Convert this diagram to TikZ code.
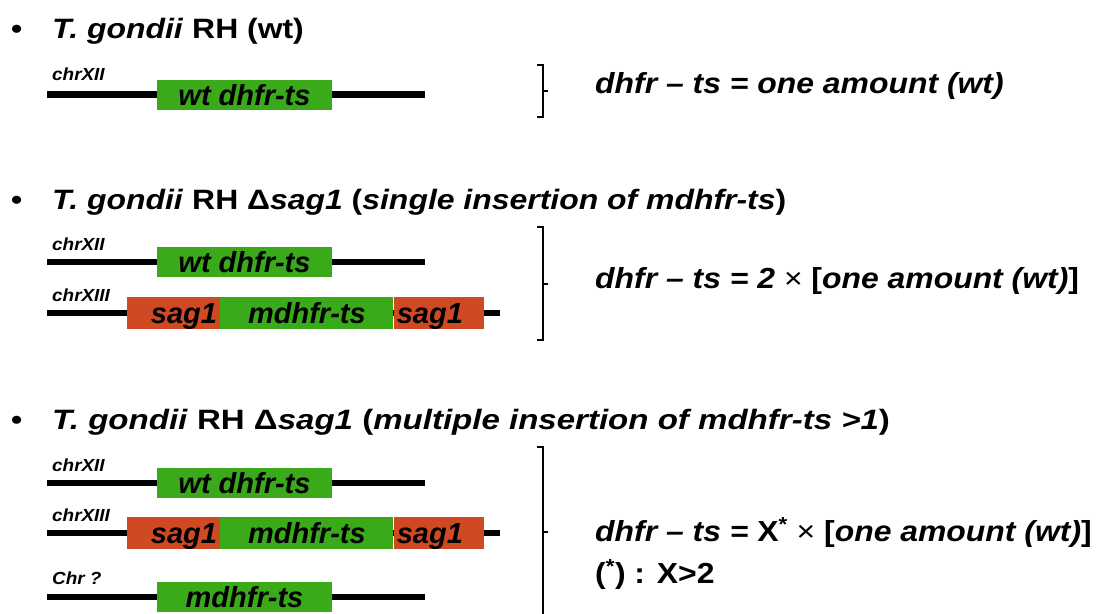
\documentclass[tikz,border=0pt]{standalone}
\usepackage{fontspec}
\setmainfont{Liberation Sans}
\newfontfamily\headfont{Liberation Sans}[FakeStretch=1.14]
\newfontfamily\longheadfont{Liberation Sans}[FakeStretch=1.18]
\newfontfamily\resfont{Liberation Sans}[FakeStretch=1.10]
\newfontfamily\labfont{Liberation Sans}[FakeStretch=1.08]
\usepackage{tikz}
\usetikzlibrary{positioning}

\definecolor{genegreen}{RGB}{58,170,26}
\definecolor{sagred}{RGB}{207,74,34}

\tikzset{
  chrom/.style={line width=6.5pt, black},
  genebox/.style={fill=genegreen, inner xsep=0pt, inner ysep=0pt,
    minimum height=30pt, text height=21pt, text depth=0pt,
    font=\fontsize{29}{29}\selectfont\bfseries\itshape},
  sagbox/.style={genebox, fill=sagred, minimum height=32pt},
  chrlabel/.style={anchor=base west, inner sep=0pt,
    font=\labfont\fontsize{17.5}{17.5}\selectfont\bfseries\itshape},
  heading/.style={anchor=base west, inner sep=0pt,
    font=\headfont\fontsize{28}{28}\selectfont\bfseries},
  result/.style={anchor=base west, inner sep=0pt,
    font=\resfont\fontsize{29}{29}\selectfont\bfseries\itshape},
  sidebrace/.style={line width=2.5pt}
}

\begin{document}
\begin{tikzpicture}[x=1pt, y=-1pt]
    \useasboundingbox (0,0) rectangle (1116,613);
    % strain wt
    \node[heading] (b1) at (11,38) {\textbullet};
    \node[heading] (t1) at (52,38) {\textit{T. gondii} RH (wt)};
    \node[chrlabel] (c1) at (52,80) {chrXII};
    \coordinate (c1w) at (47,94.5);
    \coordinate (c1e) at (425,94.5);
    \draw[chrom] (c1w) -- (c1e);
    \node[genebox, minimum width=175pt] (g1) at (244.5,94.5) {wt dhfr-ts};
    \draw[sidebrace] (537,65) -- (543,65) -- (543,117) -- (537,117);
    \draw[sidebrace] (543,91) -- (548,91);
    \node[result] (r1) at (595,93) {dhfr – ts = one amount (wt)};

    % single insertion
    \node[heading] (b2) at (11,209) {\textbullet};
    \node[heading] (t2) at (52,209) {\textit{T. gondii} RH Δ\textit{sag1} (\textit{single insertion of mdhfr-ts})};
    \node[chrlabel] (c2) at (52,250) {chrXII};
    \coordinate (c2w) at (47,262);
    \coordinate (c2e) at (425,262);
    \draw[chrom] (c2w) -- (c2e);
    \node[genebox, minimum width=175pt] (g2) at (244.5,262) {wt dhfr-ts};
    \node[chrlabel] (c3) at (52,301) {chrXIII};
    \coordinate (c3w) at (47,313);
    \coordinate (c3e) at (500,313);
    \draw[chrom] (c3w) -- (c3e);
    \node[sagbox, inner xsep=3pt, text width=87pt, align=right] (s2a) at (173.5,313) {sag1};
    \node[genebox, minimum height=32pt, minimum width=173pt, right=0pt of s2a] (m2) {mdhfr-ts};
    \node[sagbox, inner xsep=3pt, text width=84pt, align=left, right=0pt of m2] (s2b) {sag1};
    \draw[sidebrace] (537,227) -- (543,227) -- (543,340) -- (537,340);
    \draw[sidebrace] (543,284) -- (548,284);
    \node[result] (r2) at (595,288) {dhfr – ts = 2 {\upshape\mdseries ×} {\upshape [}one amount (wt){\upshape ]}};

    % multiple insertion
    \node[heading] (b3) at (11,429) {\textbullet};
    \node[heading, font=\longheadfont\fontsize{28}{28}\selectfont\bfseries] (t3) at (52,429) {\textit{T. gondii} RH Δ\textit{sag1} (\textit{multiple insertion of mdhfr-ts >1})};
    \node[chrlabel] (c4) at (52,471) {chrXII};
    \coordinate (c4w) at (47,483);
    \coordinate (c4e) at (425,483);
    \draw[chrom] (c4w) -- (c4e);
    \node[genebox, minimum width=175pt] (g3) at (244.5,483) {wt dhfr-ts};
    \node[chrlabel] (c5) at (52,521) {chrXIII};
    \coordinate (c5w) at (47,533);
    \coordinate (c5e) at (500,533);
    \draw[chrom] (c5w) -- (c5e);
    \node[sagbox, inner xsep=3pt, text width=87pt, align=right] (s3a) at (173.5,533) {sag1};
    \node[genebox, minimum height=32pt, minimum width=173pt, right=0pt of s3a] (m3) {mdhfr-ts};
    \node[sagbox, inner xsep=3pt, text width=84pt, align=left, right=0pt of m3] (s3b) {sag1};
    \node[chrlabel] (c6) at (52,584) {Chr ?};
    \coordinate (c6w) at (47,597);
    \coordinate (c6e) at (425,597);
    \draw[chrom] (c6w) -- (c6e);
    \node[genebox, minimum width=175pt] (g4) at (244.5,597) {mdhfr-ts};
    \draw[sidebrace] (537,447) -- (543,447) -- (543,620);
    \draw[sidebrace] (543,532) -- (548,532);
    \node[result] (r3) at (595,541) {dhfr – ts = {\upshape X\textsuperscript{*} {\mdseries ×} [}one amount (wt){\upshape ]}};
    \node[result, font=\resfont\fontsize{29}{29}\selectfont\bfseries] (r4) at (595,583) {(\textsuperscript{*}) : X>2};
  \end{tikzpicture}
\end{document}
